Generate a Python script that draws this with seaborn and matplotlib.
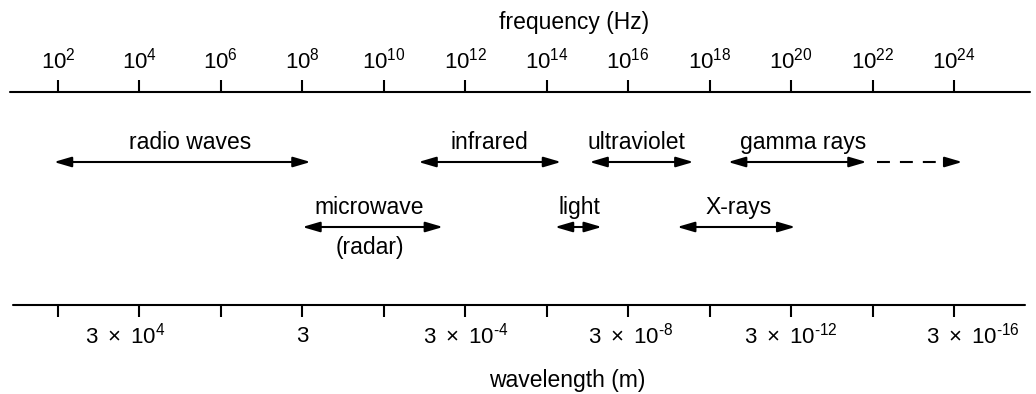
import matplotlib
matplotlib.use("Agg")
import matplotlib.pyplot as plt
import seaborn as sns

# frequency decades (log10 Hz) with ticks on both scales
tick_exp = [2, 4, 6, 8, 10, 12, 14, 16, 18, 20, 22, 24]

# wavelength labels (placed under the frequency they correspond to)
wave_pos = [3.65, 8.0, 12.0, 16.05, 20.0, 24.45]
wave_labels = [r"$3\ \times\ 10^{4}$", r"$3$", r"$3\ \times\ 10^{‐4}$",
               r"$3\ \times\ 10^{‐8}$", r"$3\ \times\ 10^{‐12}$", r"$3\ \times\ 10^{‐16}$"]

# bands: name, log10 start/end frequency, label centre, row (0 upper, 1 lower)
band_names = ["radio waves", "infrared", "ultraviolet", "gamma rays",
              "microwave", "light", "X-rays"]
band_lo = [1.9, 10.85, 15.05, 18.45, 8.0, 14.2, 17.2]
band_hi = [8.2, 14.35, 17.6, 21.85, 11.45, 15.35, 20.1]
band_label_x = [5.25, 12.6, 16.2, 20.3, 9.65, 14.8, 18.7]
band_row = [0, 0, 0, 0, 1, 1, 1]
gamma_dash_end = 24.2

sns.set_theme(style="white")
plt.rcParams["font.family"] = ["Liberation Sans", "DejaVu Sans"]
plt.rcParams["mathtext.fontset"] = "custom"
plt.rcParams["mathtext.rm"] = "Liberation Sans"
plt.rcParams["mathtext.it"] = "Liberation Sans"
plt.rcParams["text.color"] = "black"

fig = plt.figure(figsize=(10.36, 3.94), dpi=100)
ax = fig.add_axes([0, 0, 1, 1])
ax.set_xlim(0.576, 26.01)
ax.set_ylim(394, 0)
ax.axis("off")

top_y, bot_y = 92, 305
row_y = [162, 227]
lw = 1.5
fs = 16.5

# the two scale lines
sns.lineplot(x=[0.82, 25.87], y=[top_y, top_y], color="black", linewidth=lw, ax=ax)
sns.lineplot(x=[0.9, 25.75], y=[bot_y, bot_y], color="black", linewidth=lw, ax=ax)
ax.vlines(tick_exp, top_y - 12, top_y, color="black", linewidth=lw)
ax.vlines(tick_exp, bot_y, bot_y + 12, color="black", linewidth=lw)

for e in tick_exp:
    ax.text(e, 61, r"$10^{%d}$" % e, ha="center", va="center", fontsize=16)
for p, lab in zip(wave_pos, wave_labels):
    ax.text(p, 336, lab, ha="center", va="center", fontsize=16)

ax.text(14.67, 22, "frequency (Hz)", ha="center", va="center", fontsize=fs)
ax.text(14.5, 380, "wavelength (m)", ha="center", va="center", fontsize=fs)

head = "head_length=0.75,head_width=0.22"
arrow = dict(arrowstyle="<|-|>," + head, color="black", linewidth=lw,
             shrinkA=0, shrinkB=0, mutation_scale=14)
for name, lo, hi, lx, r in zip(band_names, band_lo, band_hi, band_label_x, band_row):
    y = row_y[r]
    ax.annotate("", xy=(hi, y), xytext=(lo, y), arrowprops=arrow)
    ax.text(lx, y - 8, name, ha="center", va="bottom", fontsize=fs)
    if name == "microwave":
        ax.text(lx, y + 9, "(radar)", ha="center", va="top", fontsize=fs)

# dashed extension of gamma rays
g = band_names.index("gamma rays")
gy = row_y[band_row[g]]
ax.plot([band_hi[g], gamma_dash_end - 0.4], [gy, gy], color="black",
        linewidth=lw, linestyle=(6.2, (6.2, 4.8)))
ax.annotate("", xy=(gamma_dash_end, gy), xytext=(gamma_dash_end - 0.45, gy),
            arrowprops=dict(arrowstyle="-|>," + head, color="black", linewidth=lw,
                            shrinkA=0, shrinkB=0, mutation_scale=14))

fig.savefig("out.png", dpi=100, facecolor="white")
